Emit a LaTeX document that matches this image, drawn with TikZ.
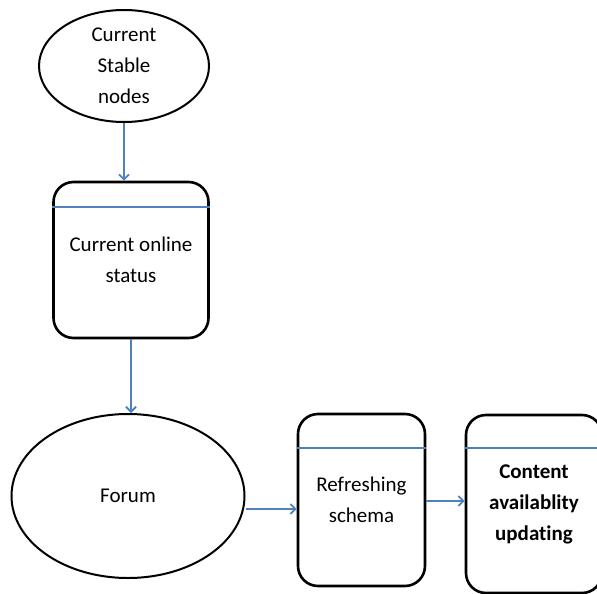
\documentclass[tikz,border=0pt]{standalone}
\usepackage{fontspec}
\setmainfont{Carlito}[Ligatures=CommonOff]
\usepackage{tikz}
\usetikzlibrary{%
  shapes.geometric,%
  arrows.meta%
}
\definecolor{flowblue}{RGB}{79,129,189}

\begin{document}
\begin{tikzpicture}[x=1pt, y=-1pt,
  every node/.style={font=\fontsize{21}{31}\selectfont, align=center, inner sep=0pt},
  oval/.style={ellipse, draw, line width=2pt},
  box/.style={rectangle, draw, line width=2.6pt, rounded corners=20pt},
  flow/.style={-{Straight Barb[length=5pt,width=10pt]}, draw=flowblue, line width=1.8pt},
  sep/.style={draw=flowblue, line width=1.6pt}]
\useasboundingbox (0,0) rectangle (597,594);
\node[oval, minimum width=170pt, minimum height=112pt] (stable) at (124,66) {Current\\Stable\\nodes};
\node[box, minimum width=155pt, minimum height=156pt] (online) at (131,260) {Current online\\status};
\node[oval, minimum width=233pt, minimum height=164pt] (forum) at (128,496) {Forum};
\node[box, minimum width=127pt, minimum height=172pt] (refresh) at (361.5,500) {Refreshing\\schema};
\node[box, minimum width=136pt, minimum height=178pt] (content) at (534,504) {\bfseries Content\\\bfseries availablity\\\bfseries updating};

\draw[sep] ([yshift=-26pt]online.north west) -- ([yshift=-26pt]online.north east);
\draw[sep] ([yshift=-35pt]refresh.north west) -- ([yshift=-35pt]refresh.north east);
\draw[sep] ([yshift=-34pt]content.north west) -- ([yshift=-34pt]content.north east);

\draw
	(stable.south) edge[flow] (stable.south |- online.north)
	(online.south) edge[flow] (online.south |- forum.north)
	([yshift=-13pt]forum.east) edge[flow] ([yshift=-13pt]forum.east -| refresh.west)
	([yshift=-1pt]refresh.east) edge[flow] ([yshift=-1pt]refresh.east -| content.west)
;
\end{tikzpicture}
\end{document}
